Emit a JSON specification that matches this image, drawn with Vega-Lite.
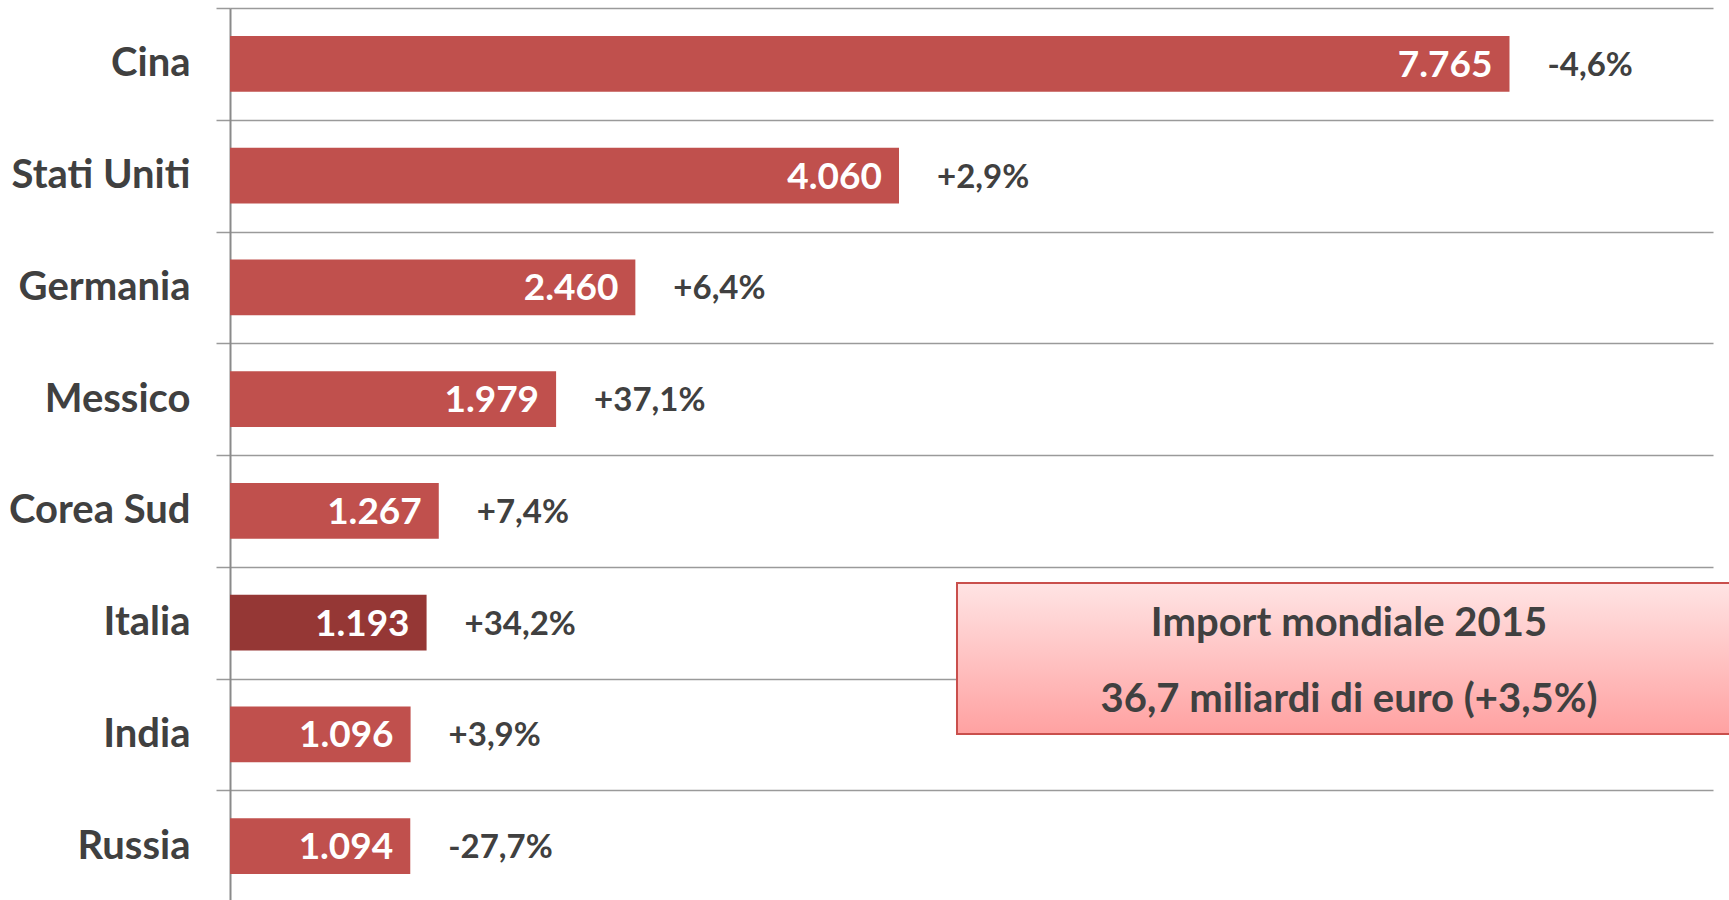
{
  "$schema": "https://vega.github.io/schema/vega-lite/v6.json",
  "width": 1483,
  "height": 894,
  "autosize": {"type": "none"},
  "padding": {"left": 230, "top": 8, "right": 16, "bottom": 0},
  "background": "white",
  "config": {
    "view": {"stroke": null},
    "font": "Lato",
    "locale": {
      "number": {"decimal": ",", "thousands": ".", "grouping": [3], "currency": ["", " €"], "minus": "-", "percent": "%"}
    }
  },
  "datasets": {
    "paesi": [
      {"paese": "Cina", "valore": 7765, "var": -0.046},
      {"paese": "Stati Uniti", "valore": 4060, "var": 0.029},
      {"paese": "Germania", "valore": 2460, "var": 0.064},
      {"paese": "Messico", "valore": 1979, "var": 0.371},
      {"paese": "Corea Sud", "valore": 1267, "var": 0.074},
      {"paese": "Italia", "valore": 1193, "var": 0.342},
      {"paese": "India", "valore": 1096, "var": 0.039},
      {"paese": "Russia", "valore": 1094, "var": -0.277}
    ]
  },
  "layer": [
    {
      "data": {"name": "paesi"},
      "encoding": {
        "y": {
          "field": "paese",
          "type": "nominal",
          "sort": null,
          "scale": {"paddingInner": 0, "paddingOuter": 0},
          "axis": {
            "title": null,
            "tickBand": "extent",
            "grid": true,
            "gridColor": "#9a9a9a",
            "gridWidth": 1.5,
            "domainColor": "#8a8a8a",
            "domainWidth": 2,
            "tickColor": "#9a9a9a",
            "tickWidth": 1.5,
            "tickSize": 14,
            "labelPadding": 26,
            "labelLimit": 0,
            "labelFont": "Lato",
            "labelFontWeight": "bold",
            "labelFontSize": 40,
            "labelColor": "#404040"
          }
        },
        "x": {
          "field": "valore",
          "type": "quantitative",
          "scale": {"domain": [0, 9000], "nice": false, "zero": true},
          "axis": null
        }
      },
      "layer": [
        {
          "mark": {"type": "bar", "height": {"band": 0.5}},
          "encoding": {
            "color": {
              "condition": {"test": "datum.paese === 'Italia'", "value": "#953735"},
              "value": "#C0504D"
            }
          }
        },
        {
          "mark": {"type": "text", "align": "right", "baseline": "middle", "dx": -17, "dy": 2, "font": "Lato", "fontWeight": "bold", "fontSize": 37, "color": "white"},
          "encoding": {"text": {"field": "valore", "type": "quantitative", "format": ",d"}}
        },
        {
          "mark": {"type": "text", "align": "left", "baseline": "middle", "dx": 38, "dy": 2, "font": "Lato", "fontWeight": "bold", "fontSize": 33, "color": "#404040"},
          "encoding": {"text": {"field": "var", "type": "quantitative", "format": "+.1%"}}
        }
      ]
    },
    {
      "data": {"values": [{}]},
      "layer": [
        {
          "mark": {"type": "rect", "fill": "#000000", "opacity": 0.25, "xOffset": 3, "yOffset": 6},
          "encoding": {
            "x": {"datum": 4412, "type": "quantitative"},
            "x2": {"datum": 9400},
            "y": {"datum": 5.145, "type": "quantitative", "scale": {"domain": [0, 8], "reverse": true, "nice": false, "zero": false}, "axis": null},
            "y2": {"datum": 6.497}
          }
        },
        {
          "mark": {
            "type": "rect",
            "fill": {"gradient": "linear", "x1": 0, "y1": 0, "x2": 0, "y2": 1, "stops": [{"offset": 0, "color": "#FFE4E4"}, {"offset": 1, "color": "#FFA1A1"}]},
            "stroke": "#C94F4C",
            "strokeWidth": 2
          },
          "encoding": {
            "x": {"datum": 4412, "type": "quantitative"},
            "x2": {"datum": 9400},
            "y": {"datum": 5.145, "type": "quantitative"},
            "y2": {"datum": 6.497}
          }
        },
        {
          "mark": {"type": "text", "align": "center", "baseline": "middle", "font": "Lato", "fontWeight": "bold", "fontSize": 40, "color": "#404040"},
          "encoding": {
            "x": {"datum": 6791, "type": "quantitative"},
            "y": {"datum": 5.51, "type": "quantitative"},
            "text": {"value": "Import mondiale 2015"}
          }
        },
        {
          "mark": {"type": "text", "align": "center", "baseline": "middle", "font": "Lato", "fontWeight": "bold", "fontSize": 40, "color": "#404040"},
          "encoding": {
            "x": {"datum": 6791, "type": "quantitative"},
            "y": {"datum": 6.19, "type": "quantitative"},
            "text": {"value": "36,7 miliardi di euro (+3,5%)"}
          }
        }
      ]
    }
  ],
  "resolve": {"scale": {"y": "independent"}}
}
